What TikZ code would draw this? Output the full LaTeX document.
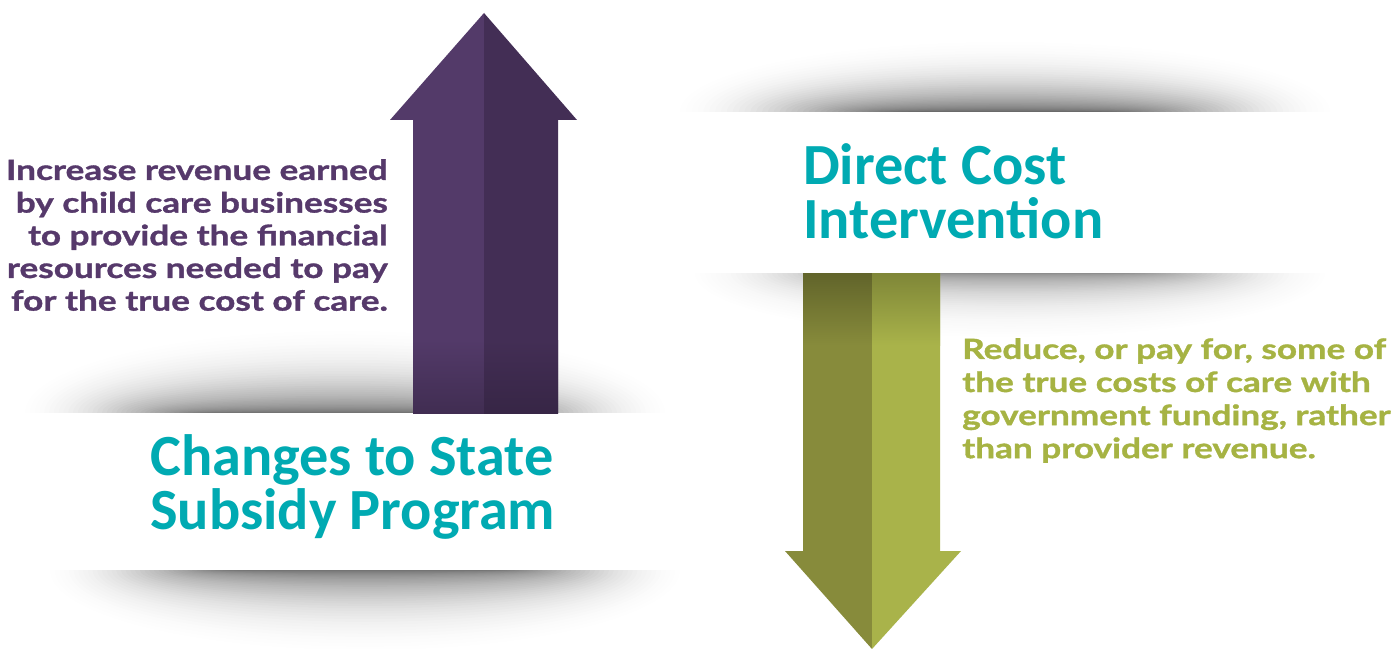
\documentclass[tikz,border=0pt]{standalone}
\usepackage{fontspec}
\newfontfamily\headfont{Carlito}
\newfontfamily\bodyfont{Lato}[FakeStretch=1.26, FakeBold=1.2]
\definecolor{teal}{HTML}{00AAB2}
\definecolor{purptext}{HTML}{56396B}
\definecolor{greentext}{HTML}{A6B343}
\definecolor{purpL}{HTML}{533A69}
\definecolor{purpR}{HTML}{432E55}
\definecolor{greenL}{HTML}{878B3B}
\definecolor{greenR}{HTML}{A9B34A}
% soft shadow: centre x, edge y, x radius, y radius, layer opacity, horizontal shrink
\newcommand\bandshadow[6]{%
  \foreach \i in {0,...,39}{%
    \pgfmathsetmacro\op{#5*(0.15+1.7*\i/40)}%
    \fill[black,opacity=\op] (#1,#2) ellipse [x radius={#3*(1-#6*\i/40)}, y radius={#4*((40-\i)/40)^1.7}];
  }%
}
\tikzset{
  heading/.style={inner sep=0pt, text=teal, align=left, font=\headfont\bfseries\fontsize{58.5}{55}\selectfont},
  bodytext/.style={inner sep=0pt, font=\bodyfont\bfseries\fontsize{28}{32.8}\selectfont},
}
\begin{document}
\begin{tikzpicture}[x=1bp,y=-1bp]
\useasboundingbox (0,0) rectangle (1400,649);
\fill[white] (0,0) rectangle (1400,649);
% shadows
\bandshadow{345}{413}{320}{82}{0.019}{0.6}
\bandshadow{365}{570}{315}{80}{0.019}{0.6}
\bandshadow{1005}{112}{325}{70}{0.021}{0.72}
\bandshadow{1010}{273}{315}{64}{0.014}{0.65}
% bands
\fill[white] (20,413) rectangle (700,570);
\fill[white] (665,112) rectangle (1345,273);
% purple arrow
\fill[purpL] (484,13) -- (390,120) -- (413,120) -- (413,413) -- (484,413) -- cycle;
\fill[purpR] (484,13) -- (577,120) -- (558,120) -- (558,413) -- (484,413) -- cycle;
\shade[top color=purpL, bottom color=purpL!78!black] (413,340) rectangle (484,413);
\shade[top color=purpR, bottom color=purpR!82!black] (484,340) rectangle (558,413);
% green arrow
\fill[greenL] (872,649) -- (785,551) -- (803,551) -- (803,273) -- (872,273) -- cycle;
\fill[greenR] (872,649) -- (961,551) -- (940,551) -- (940,273) -- (872,273) -- cycle;
\shade[bottom color=greenL, top color=greenL!72!black] (803,273) rectangle (872,345);
\shade[bottom color=greenR, top color=greenR!75!black] (872,273) rectangle (940,345);
% texts
\node[heading, anchor=north west] (h1) at (150,434) {Changes to State\\Subsidy Program};
\node[heading, anchor=north west] (h2) at (803,143) {Direct Cost\\Intervention};
\node[bodytext, text=purptext, align=right, anchor=north east] (t1) at (388,159)
  {Increase revenue earned\\by child care businesses\\to provide the financial\\resources needed to pay\\for the true cost of care.};
\node[bodytext, text=greentext, align=left, anchor=north west, font=\bodyfont\bfseries\fontsize{28}{33.2}\selectfont] (t2) at (962,338)
  {Reduce, or pay for, some of\\the true costs of care with\\government funding, rather\\than provider revenue.};
\end{tikzpicture}
\end{document}
